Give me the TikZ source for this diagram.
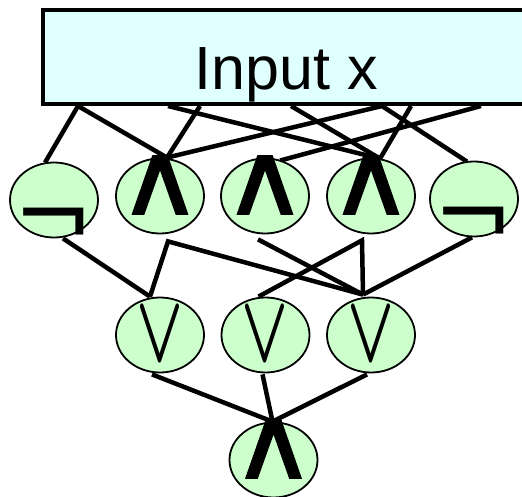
\documentclass[tikz,border=0pt]{standalone}
\usepackage{fontspec}
\setmainfont{Liberation Sans}
\newfontfamily\symfont{DejaVu Sans}
\newfontfamily\heavysym[FakeBold=1.5]{DejaVu Sans}
\usetikzlibrary{calc,backgrounds,shapes.geometric}
\definecolor{boxcyan}{RGB}{224,255,255}
\definecolor{gategreen}{RGB}{204,255,204}
\newcommand{\andsym}{\makebox[0pt]{\raisebox{-18pt}[0pt][0pt]{\scalebox{1.15}[1]{\resizebox{!}{58pt}{\heavysym ∧}}}}}
\newcommand{\orsym}{\resizebox{47pt}{53pt}{\boldmath$\vee$}}
\newcommand{\notsym}{\makebox[0pt]{\raisebox{-49pt}[0pt][0pt]{\symfont\fontsize{96}{96}\selectfont ¬}}}
\begin{document}
\begin{tikzpicture}[x=1pt, y=-1pt,
	inbox/.style={draw, line width=4pt, fill=boxcyan, minimum width=486pt, minimum height=94pt, inner sep=0pt},
	gate/.style={ellipse, draw, line width=1.8pt, fill=gategreen, minimum width=88pt, minimum height=75pt, inner sep=0pt},
	wire/.style={line width=4.5pt}]
		\useasboundingbox (0,0) rectangle (522,497);
		\clip (0,0) rectangle (522,497);
		% input block, runs off the right edge
		\node[inbox] (in) at (286,57) {};
		\node[font=\fontsize{61}{61}\selectfont, anchor=base] (inlbl) at (286,90) {Input x};
		% first layer
		\node[gate] (n1) at (54,200) {\notsym};
		\node[gate] (a2) at (160,196) {\andsym};
		\node[gate] (a3) at (265,196) {\andsym};
		\node[gate] (a4) at (371,196) {\andsym};
		\node[gate] (n5) at (474,199) {\notsym};
		% second layer
		\node[gate] (o1) at (160,335) {\orsym};
		\node[gate] (o2) at (265.5,335) {\orsym};
		\node[gate] (o3) at (371,335) {\orsym};
		% output
		\node[gate] (out) at (273.5,460) {\andsym};
		\begin{pgfonlayer}{background}
		\foreach \k/\d in {1/37,2/127,3/159,4/250,5/341,6/370,7/440}
			\coordinate (t\k) at ($(in.south west)+(\d,0)$);
		\draw[wire] (t1)--([shift={(-9,1)}]n1.north);
		\draw[wire] (t1)--([shift={(7,0)}]a2.north);
		\draw[wire] (t3)--([shift={(7,0)}]a2.north);
		\draw[wire] (t5)--([shift={(7,0)}]a2.north);
		\draw[wire] (t2)--([shift={(9,1)}]a4.north);
		\draw[wire] (t4)--([shift={(9,1)}]a4.north);
		\draw[wire] (t6)--([shift={(9,1)}]a4.north);
		\draw[wire] (t5)--([shift={(-7,1)}]n5.north);
		\draw[wire] (t7)--([shift={(15,3)}]a3.north);
		\draw[wire] ([shift={(9,0)}]n1.south)--([shift={(-10,0)}]o1.north);
		\draw[wire] ([shift={(-10,0)}]o1.north)--([shift={(8,7)}]a2.south)--([shift={(-8,-2)}]o3.north);
		\draw[wire] ([shift={(-7,5)}]a3.south)--([shift={(-8,-2)}]o3.north);
		\draw[wire] ([shift={(-7,0)}]o2.north)--([shift={(-9,6)}]a4.south)--([shift={(-8,-2)}]o3.north);
		\draw[wire] ([shift={(-2,0)}]n5.south)--([shift={(-8,-2)}]o3.north);
		\draw[wire] ([shift={(-8,1)}]o1.south)--([shift={(-1,0)}]out.north);
		\draw[wire] ([shift={(-3,1)}]o2.south)--([shift={(-1,0)}]out.north);
		\draw[wire] ([shift={(-4,1)}]o3.south)--([shift={(-1,0)}]out.north);
		\end{pgfonlayer}
\end{tikzpicture}
\end{document}
